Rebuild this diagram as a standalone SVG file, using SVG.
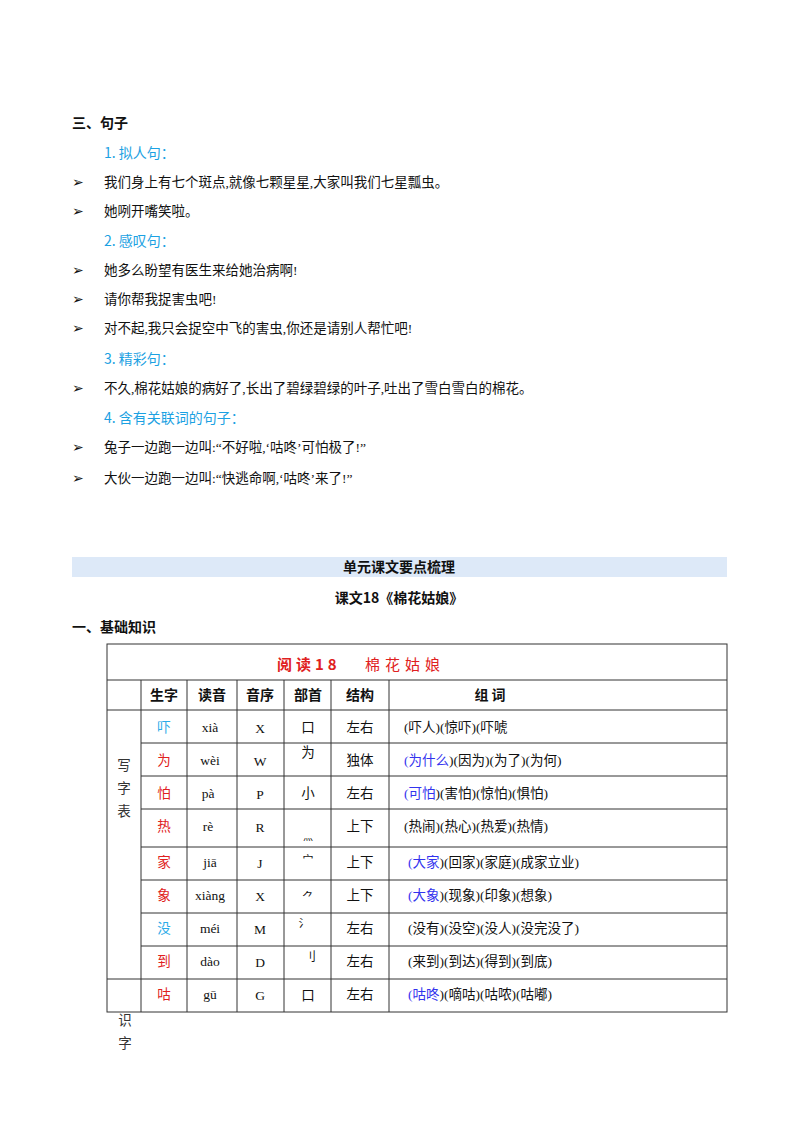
<svg xmlns="http://www.w3.org/2000/svg" width="800" height="1132" viewBox="0 0 800 1132">
<style>
text{font-family:"Liberation Serif","Noto Sans CJK SC",serif;font-size:13.5px;fill:#111}
.b{font-weight:bold;font-size:14px;font-family:"Noto Sans CJK SC",sans-serif}
.h{fill:#1ba1e2;font-size:14px;font-family:"Noto Sans CJK SC",sans-serif}
.bl{font-size:14px;font-family:"DejaVu Sans",sans-serif}
.c{text-anchor:middle}
.r{fill:#e02020}
.cy{fill:#2aaae8}
.u{fill:#3333ee}
.g{fill:#333}
line{stroke:#333;stroke-width:1}
</style>
<rect width="800" height="1132" fill="#fff"/>
<g id="sentences">
<text class="b" x="72" y="128">三、句子</text>
<text class="h" x="104" y="158">1. 拟人句：</text>
<text class="bl" x="72" y="187">➢</text><text x="104" y="187">我们身上有七个斑点,就像七颗星星,大家叫我们七星瓢虫。</text>
<text class="bl" x="72" y="216">➢</text><text x="104" y="216">她咧开嘴笑啦。</text>
<text class="h" x="104" y="246">2. 感叹句：</text>
<text class="bl" x="72" y="275">➢</text><text x="104" y="275">她多么盼望有医生来给她治病啊!</text>
<text class="bl" x="72" y="304">➢</text><text x="104" y="304">请你帮我捉害虫吧!</text>
<text class="bl" x="72" y="333">➢</text><text x="104" y="333">对不起,我只会捉空中飞的害虫,你还是请别人帮忙吧!</text>
<text class="h" x="104" y="364">3. 精彩句：</text>
<text class="bl" x="72" y="393">➢</text><text x="104" y="393">不久,棉花姑娘的病好了,长出了碧绿碧绿的叶子,吐出了雪白雪白的棉花。</text>
<text class="h" x="104" y="423">4. 含有关联词的句子：</text>
<text class="bl" x="72" y="452">➢</text><text x="104" y="452">兔子一边跑一边叫:“不好啦,‘咕咚’可怕极了!”</text>
<text class="bl" x="72" y="483">➢</text><text x="104" y="483">大伙一边跑一边叫:“快逃命啊,‘咕咚’来了!”</text>
</g>
<g id="unit">
<rect x="72" y="557" width="655" height="20" fill="#dde9f8"/>
<text class="b c" x="399" y="572">单元课文要点梳理</text>
<text class="b c" x="399" y="603">课文18《棉花姑娘》</text>
<text class="b" x="72" y="632">一、基础知识</text>
</g>
<g id="table">
<rect x="107" y="644" width="620" height="368" fill="none" stroke="#333"/>
<line x1="107" y1="680" x2="727" y2="680"/>
<line x1="107" y1="710" x2="727" y2="710"/>
<line x1="141" y1="743" x2="727" y2="743"/>
<line x1="141" y1="776" x2="727" y2="776"/>
<line x1="141" y1="809" x2="727" y2="809"/>
<line x1="141" y1="847" x2="727" y2="847"/>
<line x1="141" y1="880" x2="727" y2="880"/>
<line x1="141" y1="913" x2="727" y2="913"/>
<line x1="141" y1="946" x2="727" y2="946"/>
<line x1="107" y1="979" x2="727" y2="979"/>
<line x1="141" y1="680" x2="141" y2="1012"/>
<line x1="187" y1="680" x2="187" y2="1012"/>
<line x1="237" y1="680" x2="237" y2="1012"/>
<line x1="284" y1="680" x2="284" y2="1012"/>
<line x1="331" y1="680" x2="331" y2="1012"/>
<line x1="389" y1="680" x2="389" y2="1012"/>
<text class="r" x="277" y="670" style="font-size:15px;font-weight:bold;letter-spacing:4px;font-family:'Noto Sans CJK SC',sans-serif">阅读18</text>
<text class="r" x="365" y="670" style="font-size:15px;letter-spacing:5px;font-family:'Noto Sans CJK SC',sans-serif">棉花姑娘</text>
<text class="b c" x="164" y="700">生字</text>
<text class="b c" x="212" y="700">读音</text>
<text class="b c" x="260" y="700">音序</text>
<text class="b c" x="308" y="700">部首</text>
<text class="b c" x="360" y="700">结构</text>
<text class="b c" x="490" y="700">组 词</text>
<text class="c g" x="124" y="770">写</text>
<text class="c g" x="124" y="793">字</text>
<text class="c g" x="124" y="816">表</text>
<text class="c g" x="125" y="1025">识</text>
<text class="c g" x="125" y="1048">字</text>
<g class="g">
<text class="c cy" x="164" y="732">吓</text><text class="c" x="210" y="732">xià</text><text class="c" x="260" y="733">X</text><text class="c" x="308" y="732">口</text><text class="c" x="360" y="732">左右</text><text x="404" y="732">(吓人)(惊吓)(吓唬</text>
<text class="c r" x="164" y="765">为</text><text class="c" x="210" y="765">wèi</text><text class="c" x="260" y="766">W</text><text class="c" x="308" y="757">为</text><text class="c" x="360" y="765">独体</text><text x="404" y="765"><tspan class="u">(为什么</tspan>)(因为)(为了)(为何)</text>
<text class="c r" x="164" y="798">怕</text><text class="c" x="208" y="798">pà</text><text class="c" x="260" y="799">P</text><text class="c" x="308" y="798">小</text><text class="c" x="360" y="798">左右</text><text x="404" y="798"><tspan class="u">(可怕</tspan>)(害怕)(惊怕)(惧怕)</text>
<text class="c r" x="164" y="831">热</text><text class="c" x="208" y="831">rè</text><text class="c" x="260" y="832">R</text><text class="c" x="308" y="840" style="font-size:10px">灬</text><text class="c" x="360" y="831">上下</text><text x="404" y="831">(热闹)(热心)(热爱)(热情)</text>
<text class="c r" x="164" y="867">家</text><text class="c" x="210" y="867">jiā</text><text class="c" x="260" y="868">J</text><text class="c" x="308" y="864" style="font-size:11px">宀</text><text class="c" x="360" y="867">上下</text><text x="408" y="867"><tspan class="u">(大家</tspan>)(回家)(家庭)(成家立业)</text>
<text class="c r" x="164" y="900">象</text><text class="c" x="210" y="900">xiàng</text><text class="c" x="260" y="901">X</text><text class="c" x="308" y="902" style="font-size:12px">⺈</text><text class="c" x="360" y="900">上下</text><text x="408" y="900"><tspan class="u">(大象</tspan>)(现象)(印象)(想象)</text>
<text class="c cy" x="164" y="933">没</text><text class="c" x="210" y="933">méi</text><text class="c" x="260" y="934">M</text><text class="c" x="304" y="927" style="font-size:11px">氵</text><text class="c" x="360" y="933">左右</text><text x="408" y="933">(没有)(没空)(没人)(没完没了)</text>
<text class="c r" x="164" y="966">到</text><text class="c" x="210" y="966">dào</text><text class="c" x="260" y="967">D</text><text class="c" x="310" y="961" style="font-size:12px">刂</text><text class="c" x="360" y="966">左右</text><text x="408" y="966">(来到)(到达)(得到)(到底)</text>
<text class="c r" x="164" y="999">咕</text><text class="c" x="210" y="999">gū</text><text class="c" x="260" y="1000">G</text><text class="c" x="308" y="1000">口</text><text class="c" x="360" y="999">左右</text><text x="408" y="999"><tspan class="u">(咕咚</tspan>)(嘀咕)(咕哝)(咕嘟)</text>
</g>
</g>
</svg>
